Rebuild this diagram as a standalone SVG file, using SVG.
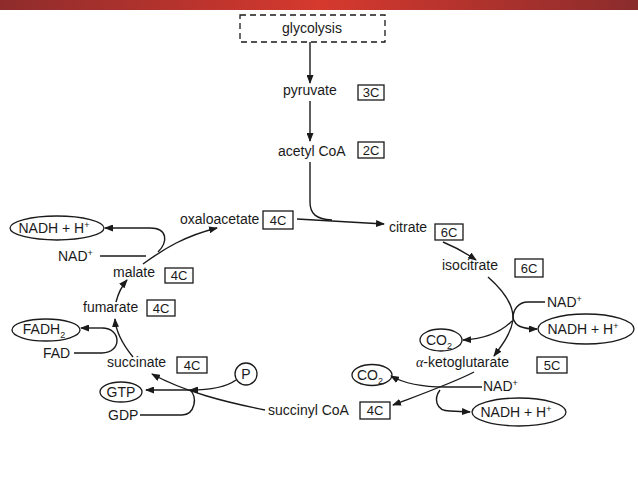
<svg xmlns="http://www.w3.org/2000/svg" width="638" height="479" viewBox="0 0 638 479">
<defs>
<linearGradient id="bar" x1="0" y1="0" x2="1" y2="0">
<stop offset="0" stop-color="#8e2c2c"/>
<stop offset="0.5" stop-color="#d6392e"/>
<stop offset="1" stop-color="#8a2c2c"/>
</linearGradient>
<marker id="ah" markerUnits="userSpaceOnUse" markerWidth="9" markerHeight="7" refX="8" refY="3.5" orient="auto">
<path d="M0,0 L9,3.5 L0,7 z" fill="#1a1a1a"/>
</marker>
<style>
text{font-family:"Liberation Sans",Arial,sans-serif;font-size:14px;fill:#1a1a1a}
.bx text,text.c{font-size:13px;text-anchor:middle}
.bx rect{fill:none;stroke:#1a1a1a;stroke-width:1.3}
.el{fill:none;stroke:#1a1a1a;stroke-width:1.3}
.ln{fill:none;stroke:#1a1a1a;stroke-width:1.4}
.ar{fill:none;stroke:#1a1a1a;stroke-width:1.4;marker-end:url(#ah)}
.m{text-anchor:middle}
.sup{font-size:9px}
</style>
</defs>
<rect width="638" height="479" fill="#fff"/>
<rect x="0" y="0" width="638" height="10" fill="url(#bar)"/>

<g id="connectors">
<path class="ar" d="M310 42 L310 83"/>
<path class="ar" d="M310 101 L310 141"/>
<path class="ln" d="M310 162 L310 202 C310 214 316 219 332 220"/>
<path class="ar" d="M297 219 L384 224"/>
<path class="ar" d="M443 242 C455 247 466 253 476 260"/>
<path class="ar" d="M488 277 C504 291 514 306 513 320 C511 333 503 344 494 356"/>
<path class="ln" d="M545 302 L528 302 C518 302 513 310 513 318"/>
<path class="ar" d="M513 318 C515 326 522 329 537 329"/>
<path class="ar" d="M512 321 C500 333 485 339 463 340"/>
<path class="ar" d="M474 372 C455 382 430 391 393 405"/>
<path class="ln" d="M482 387 L445 387"/>
<path class="ar" d="M445 387 C425 387 405 384 391 376"/>
<path class="ar" d="M440 390 C434 398 435 411 450 411 L470 412"/>
<path class="ar" d="M265 410 C225 402 185 392 152 374"/>
<path class="ar" d="M236 380 C225 388 205 390 190 390"/>
<path class="ar" d="M190 390 L146 390"/>
<path class="ln" d="M140 415 L182 415 C195 415 198 396 190 390"/>
<path class="ar" d="M133 357 C124 346 116 334 115 319"/>
<path class="ln" d="M74 353 L102 353 C122 353 122 328 102 328"/>
<path class="ar" d="M102 328 L81 328"/>
<path class="ar" d="M116 302 C118 294 121 287 127 280"/>
<path class="ar" d="M143 264 C165 248 185 236 217 228"/>
<path class="ln" d="M100 256 L146 256"/>
<path class="ln" d="M158 252 C168 242 168 228 150 228"/>
<path class="ar" d="M150 228 L105 228"/>
</g>

<g id="glycolysis">
<rect x="240" y="15" width="145" height="27" fill="none" stroke="#1a1a1a" stroke-width="1.3" stroke-dasharray="6 4"/>
<text x="312" y="33" class="m">glycolysis</text>
</g>
<g id="pyruvate" class="bx">
<text x="283" y="95" style="text-anchor:start;font-size:14px">pyruvate</text>
<rect x="358" y="85" width="26" height="15"/><text x="371" y="97">3C</text>
</g>
<g id="acetylcoa" class="bx">
<text x="278" y="156" style="text-anchor:start;font-size:14px">acetyl CoA</text>
<rect x="358" y="142" width="26" height="16"/><text x="371" y="155">2C</text>
</g>
<g id="citrate" class="bx">
<text x="389" y="232" style="text-anchor:start;font-size:14px">citrate</text>
<rect x="435" y="224" width="28" height="16"/><text x="449" y="237">6C</text>
</g>
<g id="isocitrate" class="bx">
<text x="442" y="270" style="text-anchor:start;font-size:14px">isocitrate</text>
<rect x="515" y="259" width="28" height="18"/><text x="529" y="273">6C</text>
</g>
<g id="akg" class="bx">
<text x="416" y="367" style="text-anchor:start;font-size:14px"><tspan style="font-family:'Liberation Serif',serif;font-style:italic">α</tspan>-ketoglutarate</text>
<rect x="537" y="357" width="30" height="16"/><text x="552" y="370">5C</text>
</g>
<g id="succinylcoa" class="bx">
<text x="268" y="415" style="text-anchor:start;font-size:14px">succinyl CoA</text>
<rect x="360" y="402" width="30" height="17"/><text x="375" y="415">4C</text>
</g>
<g id="succinate" class="bx">
<text x="107" y="367" style="text-anchor:start;font-size:14px">succinate</text>
<rect x="177" y="357" width="30" height="16"/><text x="192" y="370">4C</text>
</g>
<g id="fumarate" class="bx">
<text x="83" y="312" style="text-anchor:start;font-size:14px">fumarate</text>
<rect x="147" y="300" width="28" height="16"/><text x="161" y="313">4C</text>
</g>
<g id="malate" class="bx">
<text x="113" y="277" style="text-anchor:start;font-size:14px">malate</text>
<rect x="165" y="268" width="28" height="15"/><text x="179" y="280">4C</text>
</g>
<g id="oxaloacetate" class="bx">
<text x="180" y="224" style="text-anchor:start;font-size:14px">oxaloacetate</text>
<rect x="263" y="211" width="30" height="18"/><text x="278" y="225">4C</text>
</g>

<g id="nadh1">
<ellipse class="el" cx="57" cy="228" rx="47" ry="12"/>
<text x="54" y="233" class="m">NADH + H<tspan class="sup" dy="-5">+</tspan></text>
</g>
<g id="nad1"><text x="58" y="261">NAD<tspan class="sup" dy="-5">+</tspan></text></g>
<g id="fadh2">
<ellipse class="el" cx="46" cy="330" rx="34" ry="11"/>
<text x="44" y="334" class="m">FADH<tspan class="sup" dy="4">2</tspan></text>
</g>
<g id="fad"><text x="43" y="358">FAD</text></g>
<g id="gtp">
<ellipse class="el" cx="121" cy="392" rx="21" ry="10"/>
<text x="121" y="397" class="m">GTP</text>
</g>
<g id="gdp"><text x="108" y="420">GDP</text></g>
<g id="p">
<circle class="el" cx="246" cy="374" r="11"/>
<text x="246" y="379" class="m">P</text>
</g>
<g id="nad2"><text x="547" y="307">NAD<tspan class="sup" dy="-5">+</tspan></text></g>
<g id="nadh2">
<ellipse class="el" cx="586" cy="329" rx="48" ry="15"/>
<text x="583" y="334" class="m">NADH + H<tspan class="sup" dy="-5">+</tspan></text>
</g>
<g id="co2a">
<ellipse class="el" cx="441" cy="340" rx="21" ry="11"/>
<text x="439" y="345" class="m">CO<tspan class="sup" dy="4">2</tspan></text>
</g>
<g id="nad3"><text x="483" y="391">NAD<tspan class="sup" dy="-5">+</tspan></text></g>
<g id="co2b">
<ellipse class="el" cx="372" cy="375" rx="20" ry="10.5"/>
<text x="370" y="380" class="m">CO<tspan class="sup" dy="4">2</tspan></text>
</g>
<g id="nadh3">
<ellipse class="el" cx="519" cy="412" rx="47" ry="14"/>
<text x="516" y="417" class="m">NADH + H<tspan class="sup" dy="-5">+</tspan></text>
</g>
</svg>
